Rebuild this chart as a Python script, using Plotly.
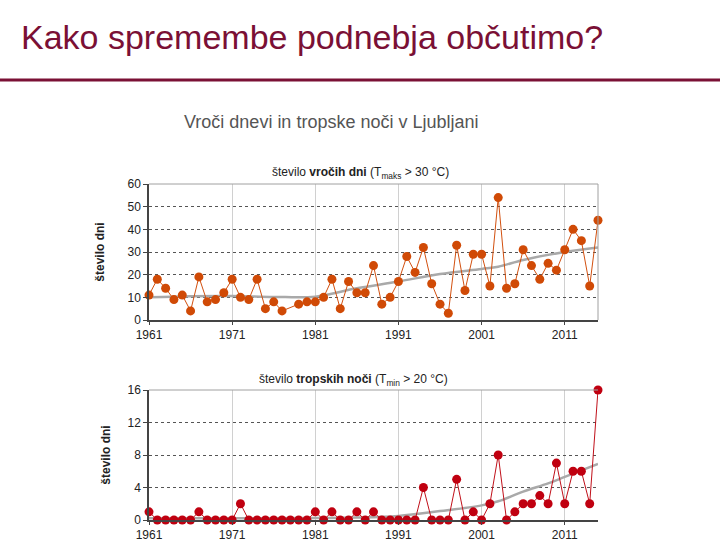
import plotly.graph_objects as go

years = list(range(1961, 2016))
hot_days = [11, 18, 14, 9, 11, 4, 19, 8, 9, 12,
            18, 10, 9, 18, 5, 8, 4, None, 7, 8,
            8, 10, 18, 5, 17, 12, 12, 24, 7, 10,
            17, 28, 21, 32, 16, 7, 3, 33, 13, 29,
            29, 15, 54, 14, 16, 31, 24, 18, 25, 22,
            31, 40, 35, 15, 44]
tropical_nights = [1, 0, 0, 0, 0, 0, 1, 0, 0, 0,
                   0, 2, 0, 0, 0, 0, 0, 0, 0, 0,
                   1, 0, 1, 0, 0, 1, 0, 1, 0, 0,
                   0, 0, 0, 4, 0, 0, 0, 5, 0, 1,
                   0, 2, 8, 0, 1, 2, 2, 3, 2, 7,
                   2, 6, 6, 2, 16]
trend_years_hot = [1961, 1966, 1971, 1976, 1981, 1986, 1991, 1996, 2001, 2003, 2006, 2011, 2015]
trend_hot = [10, 10.5, 10.6, 10.2, 10.3, 14, 17, 20.3, 22.5, 23.5, 26.5, 30, 32]
trend_years_trop = [1961, 1971, 1981, 1986, 1991, 1996, 2001, 2003, 2006, 2009, 2011, 2015]
trend_trop = [0.2, 0.2, 0.25, 0.3, 0.5, 1.1, 1.8, 2.3, 3.5, 4.5, 5.3, 6.9]
x_ticks = [1961, 1971, 1981, 1991, 2001, 2011]

MAROON = "#7A1035"
FONT = "Liberation Sans, Arial, sans-serif"

fig = go.Figure()
fig.add_trace(go.Scatter(x=trend_years_hot, y=trend_hot, mode="lines", line=dict(color="#A9A9A9", width=2.5, shape="spline"),
                         xaxis="x", yaxis="y", hoverinfo="skip"))
fig.add_trace(go.Scatter(x=years, y=hot_days, mode="lines+markers", connectgaps=True,
                         line=dict(color="#D2500F", width=1), marker=dict(color="#D04A06", size=9),
                         xaxis="x", yaxis="y", cliponaxis=False))
fig.add_trace(go.Scatter(x=trend_years_trop, y=trend_trop, mode="lines", line=dict(color="#A9A9A9", width=2.5, shape="spline"),
                         xaxis="x2", yaxis="y2", hoverinfo="skip"))
fig.add_trace(go.Scatter(x=years, y=tropical_nights, mode="lines+markers",
                         line=dict(color="#C0101A", width=1), marker=dict(color="#C00010", size=9),
                         xaxis="x2", yaxis="y2", cliponaxis=False))

xdom = [149 / 720, 598 / 720]
common_x = dict(range=[1961, 2015], tickvals=x_ticks, showgrid=True, gridcolor="#D0D0D0", gridwidth=1,
                showline=True, linecolor="#444", linewidth=1.5, ticks="outside", ticklen=3, tickcolor="#444",
                tickfont=dict(family=FONT, size=12, color="#222"), zeroline=False, mirror=False, automargin=False)
common_y = dict(showgrid=True, gridcolor="#555", griddash="dot", gridwidth=1,
                showline=True, linecolor="#444", linewidth=1.5, ticks="outside", ticklen=4, tickcolor="#444",
                tickfont=dict(family=FONT, size=12, color="#222"), zeroline=False, automargin=False)

fig.update_layout(
    width=720, height=540, margin=dict(l=0, r=0, t=0, b=0, autoexpand=False),
    paper_bgcolor="white", plot_bgcolor="white", showlegend=False,
    xaxis=dict(domain=xdom, anchor="y", **common_x),
    yaxis=dict(domain=[1 - 320 / 540, 1 - 184 / 540], anchor="x", range=[0, 60], tickvals=[0, 10, 20, 30, 40, 50, 60],
               title=dict(text="<b>število dni</b>", font=dict(family=FONT, size=12, color="#222"), standoff=20), **common_y),
    xaxis2=dict(domain=xdom, anchor="y2", **common_x),
    yaxis2=dict(domain=[1 - 520 / 540, 1 - 390 / 540], anchor="x2", range=[0, 16], tickvals=[0, 4, 8, 12, 16],
                title=dict(text="<b>število dni</b>", font=dict(family=FONT, size=12, color="#222"), standoff=14), **common_y),
    shapes=[
        dict(type="line", xref="paper", yref="paper", x0=0, x1=1, y0=1 - 80 / 540, y1=1 - 80 / 540,
             line=dict(color=MAROON, width=3)),
        dict(type="line", xref="paper", yref="paper", x0=xdom[0], x1=xdom[1], y0=1 - 184 / 540, y1=1 - 184 / 540,
             line=dict(color="#A0A0A0", width=1)),
        dict(type="line", xref="paper", yref="paper", x0=xdom[1], x1=xdom[1], y0=1 - 320 / 540, y1=1 - 184 / 540,
             line=dict(color="#A0A0A0", width=1)),
        dict(type="line", xref="paper", yref="paper", x0=xdom[0], x1=xdom[1], y0=1 - 390 / 540, y1=1 - 390 / 540,
             line=dict(color="#A0A0A0", width=1)),
    ],
    annotations=[
        dict(text="Kako spremembe podnebja občutimo?", x=19 / 720, y=1 - 37 / 540, xref="paper", yref="paper",
             xanchor="left", yanchor="middle", showarrow=False, font=dict(family=FONT, size=34, color=MAROON)),
        dict(text="Vroči dnevi in tropske noči v Ljubljani", x=331 / 720, y=1 - 122 / 540, xref="paper", yref="paper",
             xanchor="center", yanchor="middle", showarrow=False, font=dict(family=FONT, size=18, color="#555")),
        dict(text="število <b>vročih dni</b> (T<sub>maks</sub> > 30 °C)", x=360 / 720, y=1 - 173 / 540, xref="paper", yref="paper",
             xanchor="center", yanchor="middle", showarrow=False, font=dict(family=FONT, size=12, color="#222")),
        dict(text="število <b>tropskih noči</b> (T<sub>min</sub> > 20 °C)", x=353 / 720, y=1 - 380 / 540, xref="paper", yref="paper",
             xanchor="center", yanchor="middle", showarrow=False, font=dict(family=FONT, size=12, color="#222")),
    ],
)

fig.write_html("out.html", config={"displayModeBar": False},
               post_script="document.body.style.margin='0px';")
